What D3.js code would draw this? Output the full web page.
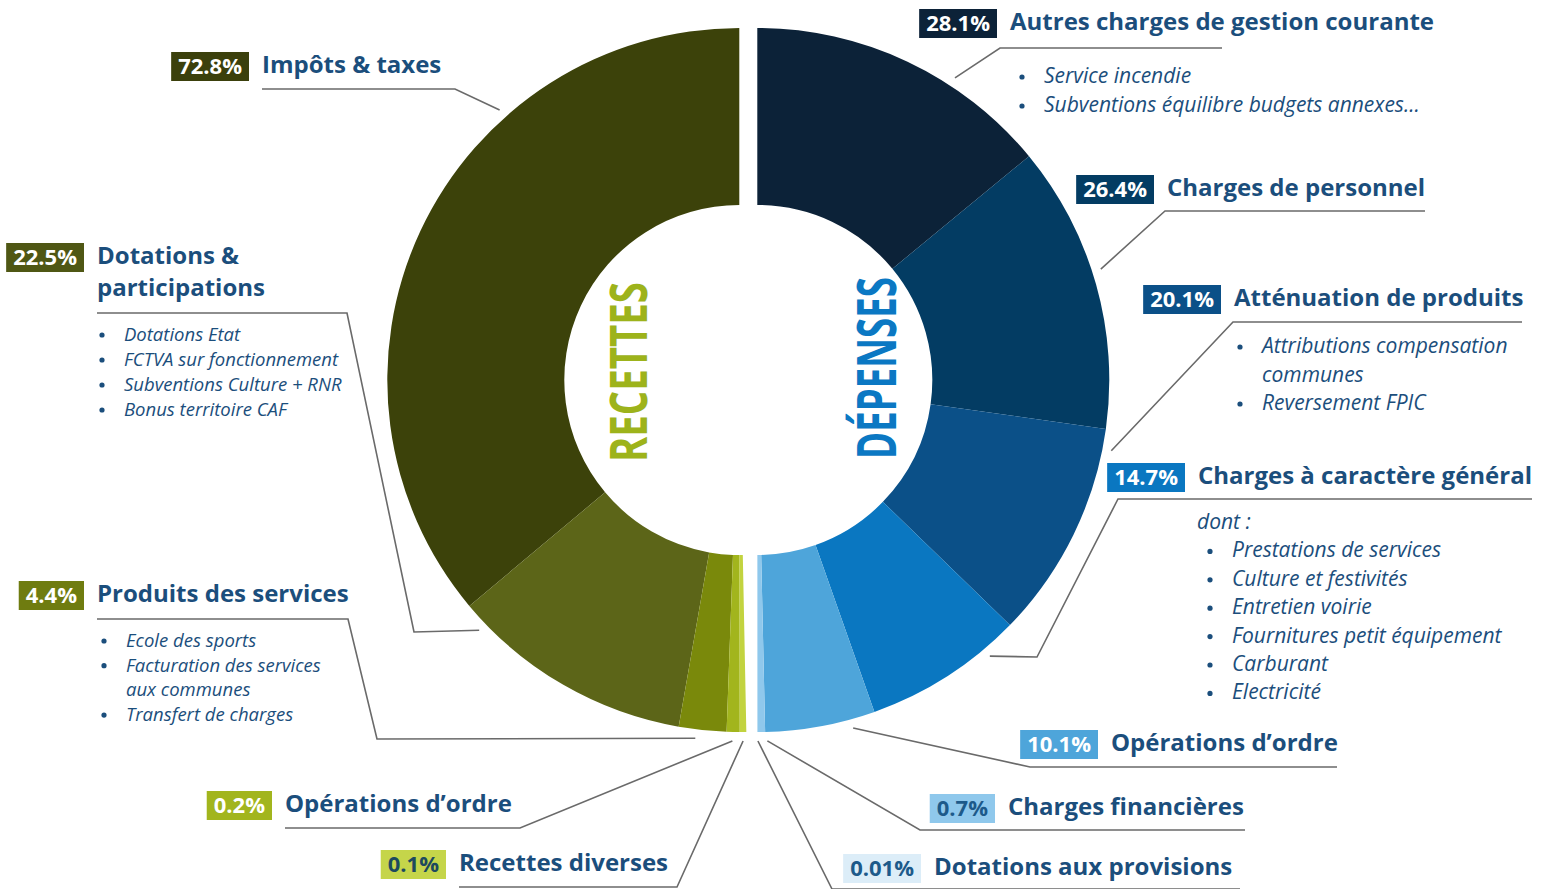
<!DOCTYPE html>
<html>
<head>
<meta charset="utf-8">
<script src="https://cdn.jsdelivr.net/npm/d3@7"></script>
<style>
  body { margin: 0; background: #fff; }
  text { font-family: "Open Sans", sans-serif; }
</style>
</head>
<body>
<div id="chart"></div>
<script>
// --- data ---
var recNames = ["Impôts & taxes", "Dotations &\nparticipations", "Produits des services", "Opérations d’ordre", "Recettes diverses"];
var recValues = [72.8, 22.5, 4.4, 0.2, 0.1];
var recDetails = [
  [],
  ["Dotations Etat", "FCTVA sur fonctionnement", "Subventions Culture + RNR", "Bonus territoire CAF"],
  ["Ecole des sports", "Facturation des services\naux communes", "Transfert de charges"],
  [],
  []
];

var depNames = ["Autres charges de gestion courante", "Charges de personnel", "Atténuation de produits",
  "Charges à caractère général", "Opérations d’ordre", "Charges financières", "Dotations aux provisions"];
var depValues = [28.1, 26.4, 20.1, 14.7, 10.1, 0.7, 0.01];
var depIntro = ["", "", "", "dont :", "", "", ""];
var depDetails = [
  ["Service incendie", "Subventions équilibre budgets annexes..."],
  [],
  ["Attributions compensation\ncommunes", "Reversement FPIC"],
  ["Prestations de services", "Culture et festivités", "Entretien voirie", "Fournitures petit équipement", "Carburant", "Electricité"],
  [], [], []
];

// --- styles ---
var recColors = ["#3c420a", "#5c6518", "#7a890b", "#a2b51d", "#c2d33f"];
var recBox    = ["#3b400c", "#4f5714", "#6f7c10", "#a2b51d", "#c5d54a"];
var recBoxTxt = ["#fff", "#fff", "#fff", "#fff", "#1d4a5e"];
var depColors = ["#0c2238", "#033c63", "#0b5088", "#0a77c1", "#4ea5da", "#8fc8ec", "#dcedf8"];
var depBox    = ["#0c2238", "#033c63", "#0b5088", "#0a77c1", "#4ea5da", "#8fc8ec", "#dcedf8"];
var depBoxTxt = ["#fff", "#fff", "#fff", "#fff", "#fff", "#1d5a8a", "#1d5a8a"];
var titleColor = "#1b4e7c";
var lineColor = "#6a6a6a";

// label layout: text x, first baseline, underline y/extent, optional bends, tip angle (deg from top)
var recLayout = [
  {tx: 262, ty: 73,  uy: 89,  ux: [262, 455], bends: [],          tip: 41.6,  bx: 0,   gap: 25,   lo: 28},
  {tx: 97,  ty: 264, uy: 313, ux: [97, 347],  bends: [[414, 632]], tip: 133.9, bx: 102, gap: 25,   lo: 28},
  {tx: 97,  ty: 602, uy: 619, ux: [97, 348],  bends: [[377, 739]], tip: 173.0, bx: 104, gap: 24.7, lo: 28},
  {tx: 285, ty: 812, uy: 828, ux: [285, 520], bends: [],          tip: 178.9, bx: 0,   gap: 25,   lo: 28},
  {tx: 459, ty: 871, uy: 887, ux: [459, 677], bends: [],          tip: 180.6, bx: 0,   gap: 25,   lo: 28}
];
var depLayout = [
  {tx: 1010, ty: 30,  uy: 48,  ux: [1000, 1222], bends: [],           tip: 33.2,  bx: 1022, gap: 29,   lo: 35},
  {tx: 1167, ty: 196, uy: 211, ux: [1165, 1425], bends: [],           tip: 72.1,  bx: 0,    gap: 29,   lo: 31},
  {tx: 1234, ty: 306, uy: 322, ux: [1233, 1522], bends: [],           tip: 101.3, bx: 1240, gap: 28.5, lo: 31},
  {tx: 1198, ty: 484, uy: 499, ux: [1118, 1532], bends: [[1037, 657]], tip: 139.9, bx: 1210, gap: 28.4, lo: 30},
  {tx: 1111, ty: 751, uy: 767, ux: [1030, 1337], bends: [],           tip: 164.6, bx: 0,    gap: 29,   lo: 31},
  {tx: 1008, ty: 815, uy: 830, ux: [920, 1245],  bends: [],           tip: 178.4, bx: 0,    gap: 29,   lo: 31},
  {tx: 934,  ty: 875, uy: 889, ux: [832, 1240],  bends: [],           tip: 179.9, bx: 0,    gap: 29,   lo: 31}
];

var W = 1547, H = 889;
var cy = 380, cxRec = 739.3, cxDep = 757.3;
var R = 352, r0 = 175, tipR = 361;
var recBoost = 6;   // very small receipt slices are widened so they stay visible

var svg = d3.select("#chart").append("svg")
  .attr("width", W).attr("height", H)
  .style("background", "#fff");

var arc = d3.arc().innerRadius(r0).outerRadius(R);

// left half: counter-clockwise from the top
var recPie = d3.pie().sort(null)
  .value(function(d){ return d < 1 ? d * recBoost : d; })
  .startAngle(0).endAngle(-Math.PI - 0.02);
var depPie = d3.pie().sort(null)
  .value(function(d){ return d; })
  .startAngle(0).endAngle(Math.PI);

var gRec = svg.append("g").attr("transform", "translate(" + cxRec + "," + cy + ")");
gRec.selectAll("path").data(recPie(recValues)).enter().append("path")
  .attr("d", arc)
  .attr("fill", function(d, i){ return recColors[i]; });

var gDep = svg.append("g").attr("transform", "translate(" + cxDep + "," + cy + ")");
gDep.selectAll("path").data(depPie(depValues)).enter().append("path")
  .attr("d", arc)
  .attr("fill", function(d, i){ return depColors[i]; });

// center words
svg.append("text")
  .attr("transform", "translate(647," + 372 + ") rotate(-90)")
  .attr("text-anchor", "middle")
  .attr("font-size", 52).attr("font-weight", 700)
  .attr("textLength", 180).attr("lengthAdjust", "spacingAndGlyphs")
  .attr("fill", "#9db31b")
  .text("RECETTES");
svg.append("text")
  .attr("transform", "translate(896," + 368 + ") rotate(-90)")
  .attr("text-anchor", "middle")
  .attr("font-size", 54).attr("font-weight", 700)
  .attr("textLength", 182).attr("lengthAdjust", "spacingAndGlyphs")
  .attr("fill", "#0b78c3")
  .text("DÉPENSES");

function polar(cx, dir, deg, rad){
  var a = deg * Math.PI / 180;
  return [cx + dir * rad * Math.sin(a), cy - rad * Math.cos(a)];
}

var leaders = svg.append("g");
var labels = svg.append("g");

function drawLabel(name, value, lay, boxCol, boxTxt, intro, details, side){
  var g = labels.append("g");
  var fs = side > 0 ? 21 : 18.5;
  var lines = name.split("\n");
  lines.forEach(function(l, k){
    g.append("text")
      .attr("x", lay.tx).attr("y", lay.ty + k * 32)
      .attr("font-size", 24).attr("font-weight", 700)
      .attr("fill", titleColor)
      .text(l);
  });
  // percentage box
  var pt = g.append("text")
    .attr("font-family", "Lato, sans-serif")
    .attr("font-size", 22).attr("font-weight", 700)
    .attr("fill", boxTxt)
    .attr("text-anchor", "middle")
    .text(String(value) + "%");
  var tw = pt.node().getComputedTextLength();
  var bw = tw + 14, bx = lay.tx - 13 - bw;
  g.insert("rect", "text")
    .attr("x", bx).attr("y", lay.ty - 21)
    .attr("width", bw).attr("height", 29)
    .attr("fill", boxCol);
  pt.attr("x", bx + bw / 2).attr("y", lay.ty + 1);

  // sub list
  var y = lay.uy + lay.lo;
  var tx = lay.bx + 22;
  if (intro) {
    g.append("text").attr("x", lay.tx - 1).attr("y", y)
      .attr("font-size", fs).attr("font-style", "italic")
      .attr("fill", titleColor).text(intro);
    y += lay.gap;
  }
  details.forEach(function(item){
    g.append("circle").attr("cx", lay.bx).attr("cy", y - 6).attr("r", 2.6).attr("fill", titleColor);
    item.split("\n").forEach(function(l){
      g.append("text").attr("x", tx).attr("y", y)
        .attr("font-size", fs).attr("font-style", "italic")
        .attr("fill", titleColor).text(l);
      y += lay.gap;
    });
  });
}

recValues.forEach(function(v, i){
  var lay = recLayout[i];
  var pts = [[lay.ux[0], lay.uy], [lay.ux[1], lay.uy]].concat(lay.bends);
  pts.push(polar(cxRec, -1, lay.tip, tipR));
  leaders.append("path")
    .attr("d", d3.line()(pts))
    .attr("fill", "none").attr("stroke", lineColor).attr("stroke-width", 1.6);
  drawLabel(recNames[i], v, lay, recBox[i], recBoxTxt[i], "", recDetails[i], -1);
});

depValues.forEach(function(v, i){
  var lay = depLayout[i];
  var pts = [polar(cxDep, 1, lay.tip, tipR)].concat(lay.bends);
  pts.push([lay.ux[0], lay.uy], [lay.ux[1], lay.uy]);
  leaders.append("path")
    .attr("d", d3.line()(pts))
    .attr("fill", "none").attr("stroke", lineColor).attr("stroke-width", 1.6);
  drawLabel(depNames[i], v, lay, depBox[i], depBoxTxt[i], depIntro[i], depDetails[i], 1);
});
</script>
</body>
</html>
